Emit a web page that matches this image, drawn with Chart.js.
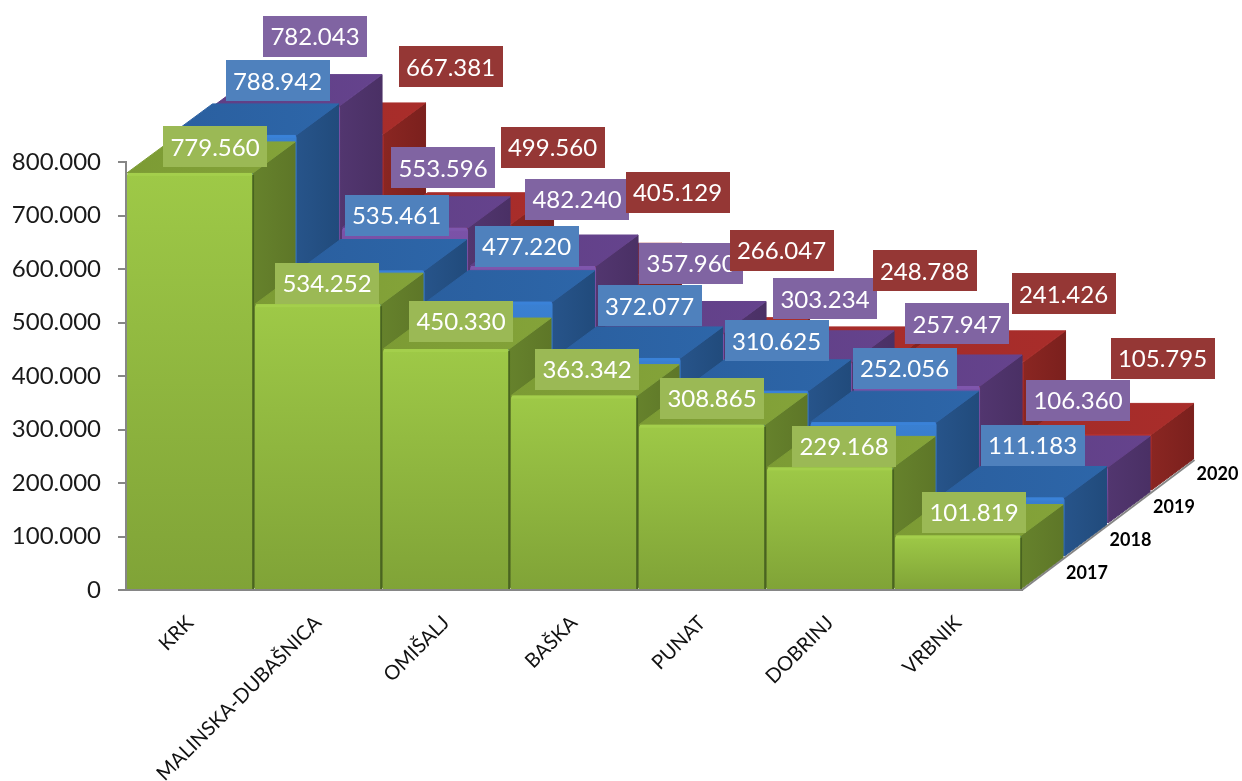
<!DOCTYPE html>
<html>
<head>
<meta charset="utf-8">
<title>Chart</title>
<script src="https://cdn.jsdelivr.net/npm/chart.js@4/dist/chart.umd.min.js"></script>
<style>
  html, body { margin: 0; padding: 0; background: #fff; }
  #wrap { width: 1242px; height: 781px; }
</style>
</head>
<body>
<div id="wrap"><canvas id="grafico" width="1242" height="781"></canvas></div>
<script>
var categories = ['KRK', 'MALINSKA-DUBAŠNICA', 'OMIŠALJ', 'BAŠKA', 'PUNAT', 'DOBRINJ', 'VRBNIK'];
var years = ['2017', '2018', '2019', '2020'];
var yTicks = [0, 100000, 200000, 300000, 400000, 500000, 600000, 700000, 800000];

var values2017 = [779560, 534252, 450330, 363342, 308865, 229168, 101819];
var values2018 = [788942, 535461, 477220, 372077, 310625, 252056, 111183];
var values2019 = [782043, 553596, 482240, 357960, 303234, 257947, 106360];
var values2020 = [667381, 499560, 405129, 266047, 248788, 241426, 105795];

// labels were placed by hand in the original, so each one has its own nudge
var nudgeX2017 = [25, 9, 15, 13, 10, 14, 16];
var nudgeY2017 = [-26, -21, -28, -26, -26, -21, -23];
var nudgeX2018 = [44, 35, 37, 32, 31, 31, 31];
var nudgeY2018 = [-54, -55, -55, -52, -50, -54, -52];
var nudgeX2019 = [38, 38, 44, 30, 36, 40, 33];
var nudgeY2019 = [-69, -60, -67, -69, -63, -62, -67];
var nudgeX2020 = [130, 104, 101, 77, 92, 103, 74];
var nudgeY2020 = [-67, -76, -82, -98, -87, -68, -76];

var allValues = [values2017, values2018, values2019, values2020];
var nudgesX = [nudgeX2017, nudgeX2018, nudgeX2019, nudgeX2020];
var nudgesY = [nudgeY2017, nudgeY2018, nudgeY2019, nudgeY2020];

// depth of the oblique projection
var stepX = 43.5, stepY = 33;   // from one series to the next
var depthX = 42, depthY = 31;   // depth of one bar

var paint = [
  { hi: '#9ec947', lo: '#80a337', top: '#7c9b34', topHi: '#84a339', side: '#66822c', sideLo: '#5e7728', edge: '#a4cf4c', label: '#9bb955' },
  { hi: '#3a80d2', lo: '#2c66aa', top: '#2a5f9f', topHi: '#2d66a9', side: '#27548a', sideLo: '#214b7c', edge: '#3a82d8', label: '#4f81bd' },
  { hi: '#7b52a8', lo: '#5f3f85', top: '#5f3f85', topHi: '#65438d', side: '#52366f', sideLo: '#4a3065', edge: '#7f56ad', label: '#8064a2' },
  { hi: '#b52c2a', lo: '#8f2623', top: '#a32c2a', topHi: '#a92d2a', side: '#8a2622', sideLo: '#7b201d', edge: '#b8302d', label: '#953735' }
];

function fmt(v) {
  return String(v).replace(/\B(?=(\d{3})+(?!\d))/g, '.');
}

function frontGradient(context) {
  var chart = context.chart, c = paint[context.datasetIndex];
  if (!chart.chartArea || context.raw === undefined) return c.hi;
  var yy = chart.scales.y;
  var g = chart.ctx.createLinearGradient(0, yy.getPixelForValue(context.raw), 0, yy.getPixelForValue(0));
  g.addColorStop(0, c.hi);
  g.addColorStop(1, c.lo);
  return g;
}

function poly(ctx, pts, fill) {
  ctx.beginPath();
  ctx.moveTo(pts[0][0], pts[0][1]);
  for (var i = 1; i < pts.length; i++) ctx.lineTo(pts[i][0], pts[i][1]);
  ctx.closePath();
  ctx.fillStyle = fill;
  ctx.strokeStyle = fill;
  ctx.lineWidth = 1;
  ctx.lineJoin = 'round';
  ctx.fill();
  ctx.stroke();
}

var bars3d = {
  id: 'bars3d',
  // draws each series itself, shifted back along the depth axis
  beforeDatasetDraw: function(chart, args) {
    var ctx = chart.ctx, i = args.index, c = paint[i];
    ctx.save();
    ctx.translate(i * stepX, -i * stepY);
    args.meta.data.forEach(function(bar) {
      var p = bar.getProps(['x', 'y', 'base', 'width'], true);
      var l = p.x - p.width / 2, r = p.x + p.width / 2;

      var sg = ctx.createLinearGradient(r, 0, r + depthX, 0);
      sg.addColorStop(0, c.side);
      sg.addColorStop(1, c.sideLo);
      poly(ctx, [[r, p.y], [r + depthX, p.y - depthY], [r + depthX, p.base - depthY], [r, p.base]], sg);

      var tg = ctx.createLinearGradient(l, 0, r + depthX, 0);
      tg.addColorStop(0, c.top);
      tg.addColorStop(1, c.topHi);
      poly(ctx, [[l, p.y], [r, p.y], [r + depthX, p.y - depthY], [l + depthX, p.y - depthY]], tg);

      bar.draw(ctx);

      // bevel along the top of the front face and the seam between bars
      ctx.fillStyle = c.edge;
      ctx.fillRect(l + 1, p.y, p.width - 2, 3);
      if (i === 0) {
        ctx.fillStyle = 'rgba(60,85,25,0.7)';
        ctx.fillRect(r - 1, p.y + 2, 2, p.base - p.y - 2);
      }
    });
    ctx.restore();
    return false;
  },
  afterDatasetsDraw: function(chart) {
    var ctx = chart.ctx, xx = chart.scales.x, yy = chart.scales.y;
    var x0 = chart.chartArea.right, y0 = yy.getPixelForValue(0);

    // floor edge going back
    ctx.save();
    ctx.strokeStyle = '#868686';
    ctx.lineWidth = 2;
    ctx.beginPath();
    ctx.moveTo(x0, y0);
    ctx.lineTo(x0 + 3 * stepX + depthX, y0 - 3 * stepY - depthY);
    ctx.stroke();

    // series names along that edge
    ctx.font = 'bold 18px Lato';
    ctx.fillStyle = '#000';
    ctx.textAlign = 'center';
    ctx.textBaseline = 'middle';
    years.forEach(function(y, i) {
      ctx.fillText(y, x0 + 65 + i * stepX, y0 - 17 - i * stepY);
    });

    // value boxes, back series painted last like the original
    ctx.font = '24px Lato';
    allValues.forEach(function(vals, i) {
      vals.forEach(function(v, j) {
        var cx = xx.getPixelForValue(j) + i * stepX + nudgesX[i][j];
        var cy = yy.getPixelForValue(v) - i * stepY + nudgesY[i][j];
        ctx.fillStyle = paint[i].label;
        ctx.fillRect(Math.round(cx - 52), Math.round(cy - 20.5), 104, 41);
        ctx.fillStyle = '#fff';
        ctx.fillText(fmt(v), cx, cy + 1);
      });
    });
    ctx.restore();
  }
};

var ctx = document.getElementById('grafico').getContext('2d');
var datasets = [];
for (var i = 0; i < years.length; i++) {
  datasets.push({
    label: years[i],
    data: allValues[i],
    grouped: false,
    barPercentage: 1,
    categoryPercentage: 0.985,
    backgroundColor: frontGradient,
    borderWidth: 0,
    borderRadius: { topLeft: 3, topRight: 3, bottomLeft: 0, bottomRight: 0 }
  });
}

new Chart(ctx, {
  type: 'bar',
  data: { labels: categories, datasets: datasets },
  plugins: [bars3d],
  options: {
    responsive: false,
    animation: false,
    layout: { padding: { top: 162, right: 220, left: 0, bottom: 0 } },
    plugins: { legend: { display: false }, tooltip: { enabled: false } },
    scales: {
      x: {
        afterFit: function(s) { s.height = 191; },
        border: { color: '#868686', width: 2 },
        grid: { display: false },
        ticks: {
          color: '#111',
          font: { family: 'Lato', size: 20 },
          minRotation: 45,
          maxRotation: 45,
          autoSkip: false,
          padding: 13
        }
      },
      y: {
        min: 0,
        max: 800000,
        afterFit: function(s) { s.width = 126; },
        afterBuildTicks: function(s) { s.ticks = yTicks.map(function(v) { return { value: v }; }); },
        border: { color: '#868686', width: 2 },
        grid: { drawOnChartArea: false, color: '#868686', lineWidth: 2, tickLength: 8 },
        ticks: {
          color: '#1a1a1a',
          font: { family: 'Lato', size: 24 },
          padding: 17,
          callback: function(v) { return fmt(v); }
        }
      }
    }
  }
});
</script>
</body>
</html>
